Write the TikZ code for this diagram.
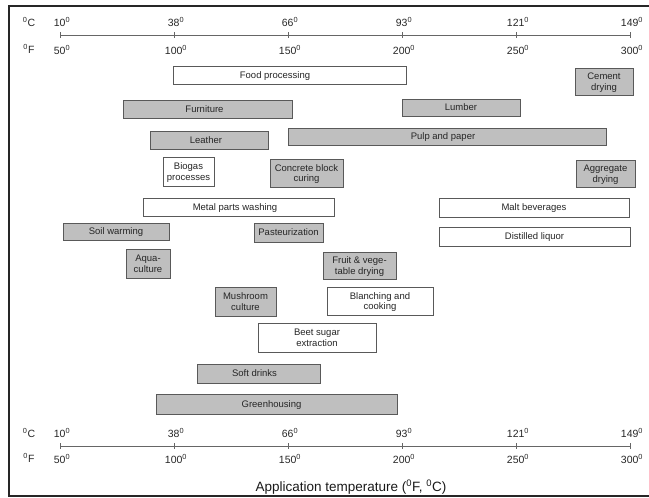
\documentclass[tikz,border=0pt]{standalone}
\usepackage{fontspec}
\setmainfont{Liberation Sans}
\begin{document}
\begin{tikzpicture}[x=1pt,y=-1pt,
  bar/.style={draw=black!65, line width=0.9pt, inner sep=0pt, align=center,
    font=\fontsize{9.5}{10.5}\selectfont, text=black!85, text depth=0pt},
  graybar/.style={bar, fill=black!25},
  whitebar/.style={bar, fill=white},
  bartext/.style={font=\fontsize{9.5}{10.5}\selectfont, text=black!85, inner sep=0pt, text depth=0pt},
  axisline/.style={draw=black!60, line width=0.9pt},
  ticklab/.style={font=\fontsize{10.5}{12}\selectfont, text=black!85, inner sep=0pt},
  unitlab/.style={font=\fontsize{10.5}{12}\selectfont, text=black!85, inner sep=0pt}
]
\useasboundingbox (0,0) rectangle (649,498);
% frame
\draw[line width=1.4pt, black!85] (652,6) -- (9,6) -- (9,496) -- (652,496);

% top axis
\node[unitlab] (tc) at (29,22) {\textsuperscript{0}C};
\node[unitlab] (tf) at (29,49) {\textsuperscript{0}F};
\coordinate (ta) at (60,35);
\coordinate (tb) at (630,35);
\draw[axisline] (ta) -- (tb);
\foreach \f/\c [count=\i] in {50/10,100/38,150/66,200/93,250/121,300/149}{
  \pgfmathsetmacro{\xx}{60+(\f-50)*2.28}
  \draw[axisline] (\xx,32) -- (\xx,38);
  \node[ticklab] (tcl\i) at (\xx+2,22) {\c\textsuperscript{0}};
  \node[ticklab] (tfl\i) at (\xx+2,50) {\f\textsuperscript{0}};
}

% bottom axis
\node[unitlab] (bc) at (29,433) {\textsuperscript{0}C};
\node[unitlab] (bf) at (29,458) {\textsuperscript{0}F};
\coordinate (ba) at (60,446);
\coordinate (bb) at (630,446);
\draw[axisline] (ba) -- (bb);
\foreach \f/\c [count=\i] in {50/10,100/38,150/66,200/93,250/121,300/149}{
  \pgfmathsetmacro{\xx}{60+(\f-50)*2.28}
  \draw[axisline] (\xx,443) -- (\xx,449);
  \node[ticklab] (bcl\i) at (\xx+2,433) {\c\textsuperscript{0}};
  \node[ticklab] (bfl\i) at (\xx+2,459) {\f\textsuperscript{0}};
}
\node[font=\fontsize{13.5}{15}\selectfont, text=black!90, inner sep=0pt] (title) at (351,487)
  {Application temperature (\textsuperscript{0}F, \textsuperscript{0}C)};

% bars
\node[whitebar, minimum width=233, minimum height=18] (food) at (289.5,75) {};
\node[bartext] (foodt) at (275,75) {Food processing};
\node[graybar, minimum width=58, minimum height=27] (cement) at (604,81.5) {Cement\\drying};
\node[graybar, minimum width=169, minimum height=18] (furn) at (207.5,109) {};
\node[bartext] (furnt) at (204.5,109) {Furniture};
\node[graybar, minimum width=118, minimum height=17] (lumber) at (461,107.5) {Lumber};
\node[graybar, minimum width=118, minimum height=18] (leather) at (209,140) {};
\node[bartext] (leathert) at (206,140) {Leather};
\node[graybar, minimum width=318, minimum height=17] (pulp) at (447,136.5) {};
\node[bartext] (pulpt) at (443,136.5) {Pulp and paper};
\node[whitebar, minimum width=51, minimum height=29] (biogas) at (188.5,171.5) {Biogas\\processes};
\node[graybar, minimum width=73, minimum height=28] (concrete) at (306.5,173) {Concrete block\\curing};
\node[graybar, minimum width=59, minimum height=27] (aggr) at (605.5,173.5) {Aggregate\\drying};
\node[whitebar, minimum width=191, minimum height=18] (metal) at (238.5,207) {};
\node[bartext] (metalt) at (235,207) {Metal parts washing};
\node[whitebar, minimum width=190, minimum height=19] (malt) at (534,207.5) {Malt beverages};
\node[graybar, minimum width=106, minimum height=17] (soil) at (116,231.5) {Soil warming};
\node[graybar, minimum width=69, minimum height=19] (past) at (288.5,232.5) {Pasteurization};
\node[whitebar, minimum width=191, minimum height=19] (dist) at (534.5,236.5) {Distilled liquor};
\node[graybar, minimum width=44, minimum height=29] (aqua) at (148,263.5) {Aqua-\\culture};
\node[graybar, minimum width=73, minimum height=27] (fruit) at (359.5,265.5) {Fruit \& vege-\\table drying};
\node[graybar, minimum width=61, minimum height=29] (mush) at (245.5,301.5) {Mushroom\\culture};
\node[whitebar, minimum width=106, minimum height=28] (blanch) at (380,301) {Blanching and\\cooking};
\node[whitebar, minimum width=118, minimum height=29] (beet) at (317,337.5) {Beet sugar\\extraction};
\node[graybar, minimum width=123, minimum height=19] (soft) at (258.5,373.5) {};
\node[bartext] (softt) at (254.5,373.5) {Soft drinks};
\node[graybar, minimum width=241, minimum height=20] (green) at (276.5,404) {};
\node[bartext] (greent) at (271.5,404) {Greenhousing};
\end{tikzpicture}
\end{document}
